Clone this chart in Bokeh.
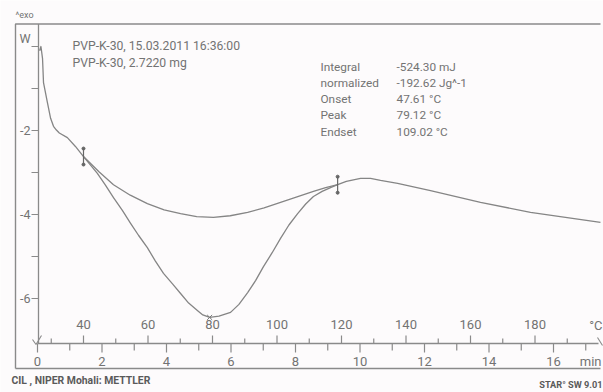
from bokeh.plotting import figure
from bokeh.models import Range1d
from bokeh.core.properties import value
from bokeh.embed import file_html
from bokeh.resources import INLINE

# DSC trace of PVP-K-30 (heat flow vs. sample temperature, 10 K/min)
temperature_c = [26.4, 26.8, 27.3, 27.6, 28.8, 29.8, 30.7, 31.6, 32.5, 35.0, 37.5,
                 40.0, 44.3, 46.8, 49.3, 52.1, 54.6, 57.1, 59.8, 62.3, 64.8,
                 67.6, 70.1, 72.6, 75.4, 77.0, 79.12, 82.0, 85.6, 88.2, 90.9,
                 93.4, 95.8, 98.5, 101.1, 103.7, 106.4, 108.9, 111.3, 114.0,
                 116.6, 118.8, 121.5, 125.9, 129.0, 132.1, 137.4, 147.6, 163.1,
                 178.6, 200.3]
heat_flow = [-0.10, 0.00, -0.29, -0.86, -1.33, -1.71, -1.90, -1.99, -2.06, -2.17, -2.38,
             -2.62, -3.02, -3.30, -3.60, -3.91, -4.21, -4.50, -4.79, -5.11, -5.40,
             -5.65, -5.88, -6.11, -6.29, -6.39, -6.45, -6.42, -6.33, -6.14, -5.86,
             -5.57, -5.24, -4.91, -4.57, -4.25, -3.98, -3.75, -3.57, -3.45,
             -3.36, -3.29, -3.21, -3.14, -3.14, -3.19, -3.26, -3.43, -3.71,
             -3.95, -4.19]

# integration baseline between the two limits
baseline_t = [40.0, 44.8, 49.3, 54.5, 59.8, 65.0, 70.1, 75.1, 80.3, 85.5,
              90.9, 96.0, 101.1, 106.2, 111.3, 115.1, 118.8]
baseline_v = [-2.62, -2.98, -3.29, -3.54, -3.74, -3.89, -3.98, -4.05, -4.07, -4.03,
              -3.95, -3.84, -3.71, -3.58, -3.45, -3.36, -3.29]

limits_t = [40.0, 118.8]
limits_v = [-2.62, -3.29]
peak_t = [79.12]
peak_v = [-6.45]

# axis ticks
hf_ticks = [0, -1, -2, -3, -4, -5, -6]
hf_labels = {0: "W", -2: "-2", -4: "-4", -6: "-6"}
temp_major = [40, 60, 80, 100, 120, 140, 160, 180]
temp_minor = [30, 50, 70, 90, 110, 130, 150, 170, 190]
time_ticks = list(range(0, 18))
time_labels = [0, 2, 4, 6, 8, 10, 12, 14, 16]

# result table
result_names = ["Integral", "  normalized", "Onset", "Peak", "Endset"]
result_values = ["-524.30 mJ", "-192.62 Jg^-1", "47.61 \u00b0C", "79.12 \u00b0C", "109.02 \u00b0C"]

header_lines = ["PVP-K-30, 15.03.2011 16:36:00", "PVP-K-30, 2.7220 mg"]

W, H = 603, 392
PX_PER_C = 3.225       # horizontal scale, pixels per degree
PX_PER_UNIT = 42.0     # vertical scale, pixels per heat-flow unit
X_LO = 40 - 83 / PX_PER_C
Y_HI = -2 + 130 / PX_PER_UNIT
T0 = X_LO + 37 / PX_PER_C   # temperature at t = 0 min
RATE = 10.0                 # K/min


def tx(px):
    return X_LO + px / PX_PER_C


def ty(py):
    return Y_HI - py / PX_PER_UNIT


p = figure(width=W, height=H, output_backend="svg", toolbar_location=None,
           x_range=Range1d(X_LO, X_LO + W / PX_PER_C),
           y_range=Range1d(Y_HI - H / PX_PER_UNIT, Y_HI),
           min_border=0, outline_line_color=None)
p.axis.visible = False
p.grid.visible = False
p.background_fill_color = "#fdfbfc"
p.border_fill_color = "#ffffff"

FONT = value("Roboto")
AX = "#8a8a8a"
TXT = "#737373"

# outer frame
p.line([tx(15), tx(15), tx(600)], [ty(368), ty(23.5), ty(23.5)], line_color=AX, line_width=1.4)
p.line([tx(15), tx(600)], [ty(368), ty(368)], line_color=AX, line_width=1.4)

# heat-flow axis
AXIS_T = tx(38)
AXIS_V = ty(343)
p.line([AXIS_T, AXIS_T], [ty(23.5), AXIS_V], line_color=AX, line_width=1.3)
p.segment(x0=[AXIS_T - 7 / PX_PER_C] * len(hf_ticks), y0=hf_ticks,
          x1=[AXIS_T] * len(hf_ticks), y1=hf_ticks, line_color=AX, line_width=1.2)
lab_v = list(hf_labels.keys())
p.text(x=[tx(30)] * len(lab_v), y=[v + (0.2 if v == 0 else 0) for v in lab_v],
       text=[hf_labels[v] for v in lab_v], text_font=FONT, text_font_size="12.5px",
       text_color=TXT, text_align="right", text_baseline="middle")

# temperature / time axis line
p.line([tx(37), tx(598)], [AXIS_V, AXIS_V], line_color=AX, line_width=1.3)
p.line([tx(32), tx(35.5), tx(41)], [ty(339), ty(344), ty(335)], line_color=AX, line_width=1.1)
p.line([tx(597), tx(602)], [ty(337), ty(345)], line_color=AX, line_width=1.1)

up_major = 8 / PX_PER_UNIT
up_minor = 5 / PX_PER_UNIT
p.segment(x0=temp_major, y0=[AXIS_V] * len(temp_major), x1=temp_major,
          y1=[AXIS_V + up_major] * len(temp_major), line_color=AX, line_width=1.2)
p.segment(x0=temp_minor, y0=[AXIS_V] * len(temp_minor), x1=temp_minor,
          y1=[AXIS_V + up_minor] * len(temp_minor), line_color=AX, line_width=1.2)
p.text(x=temp_major, y=[ty(324)] * len(temp_major), text=[str(t) for t in temp_major],
       text_font=FONT, text_font_size="13px", text_color=TXT,
       text_align="center", text_baseline="middle")
p.text(x=[tx(602)], y=[ty(325)], text=["\u00b0C"], text_font=FONT, text_font_size="13px",
       text_color=TXT, text_align="right", text_baseline="middle")

time_x = [T0 + RATE * t for t in time_ticks]
time_len = [(9 if t % 2 == 0 else 7) / PX_PER_UNIT for t in time_ticks]
p.segment(x0=time_x, y0=[AXIS_V] * len(time_x), x1=time_x,
          y1=[AXIS_V - d for d in time_len], line_color=AX, line_width=1.2)
p.text(x=[T0 + RATE * t for t in time_labels], y=[ty(361)] * len(time_labels),
       text=[str(t) for t in time_labels], text_font=FONT, text_font_size="13px",
       text_color=TXT, text_align="center", text_baseline="middle")
p.text(x=[tx(601)], y=[ty(361)], text=["min"], text_font=FONT, text_font_size="13px",
       text_color=TXT, text_align="right", text_baseline="middle")

# curve, baseline and evaluation marks
CURVE = "#858585"
p.line(temperature_c, heat_flow, line_color=CURVE, line_width=1.3, line_join="round")
p.line(baseline_t, baseline_v, line_color=CURVE, line_width=1.3, line_join="round")
half = 8 / PX_PER_UNIT
p.segment(x0=limits_t, y0=[v + half for v in limits_v], x1=limits_t,
          y1=[v - half for v in limits_v], line_color="#666666", line_width=1.2)
p.scatter(limits_t, [v + half for v in limits_v], marker="circle", size=3,
          fill_color="#666666", line_color="#666666")
p.scatter(limits_t, [v - half for v in limits_v], marker="circle", size=3,
          fill_color="#666666", line_color="#666666")
p.scatter(peak_t, peak_v, marker="x", size=7, line_color="#777777", line_width=1.0)

# header and results
p.text(x=[tx(72)] * 2, y=[ty(45), ty(62)], text=header_lines, text_font=FONT,
       text_font_size="12.2px", text_color=TXT, text_baseline="middle")
row_y = [ty(66 + 16.3 * i) for i in range(len(result_names))]
p.text(x=[tx(320)] * len(result_names), y=row_y, text=result_names, text_font=FONT,
       text_font_size="11.8px", text_color=TXT, text_baseline="middle")
p.text(x=[tx(396)] * len(result_values), y=row_y, text=result_values, text_font=FONT,
       text_font_size="11.8px", text_color=TXT, text_baseline="middle")

p.text(x=[tx(15)], y=[ty(14)], text=["^exo"], text_font=FONT, text_font_size="9px",
       text_color=TXT, text_baseline="middle")
p.text(x=[tx(11)], y=[ty(380)], text=["CIL , NIPER  Mohali: METTLER"], text_font=FONT,
       text_font_size="10.4px", text_font_style="bold", text_color="#5a5a5a",
       text_baseline="middle")
p.text(x=[tx(602)], y=[ty(384)], text=["STAR\u00b0 SW 9.01"], text_font=FONT,
       text_font_size="9.2px", text_font_style="bold", text_color="#5a5a5a",
       text_align="right", text_baseline="middle")

open("out.html", "w").write(file_html(p, INLINE))
